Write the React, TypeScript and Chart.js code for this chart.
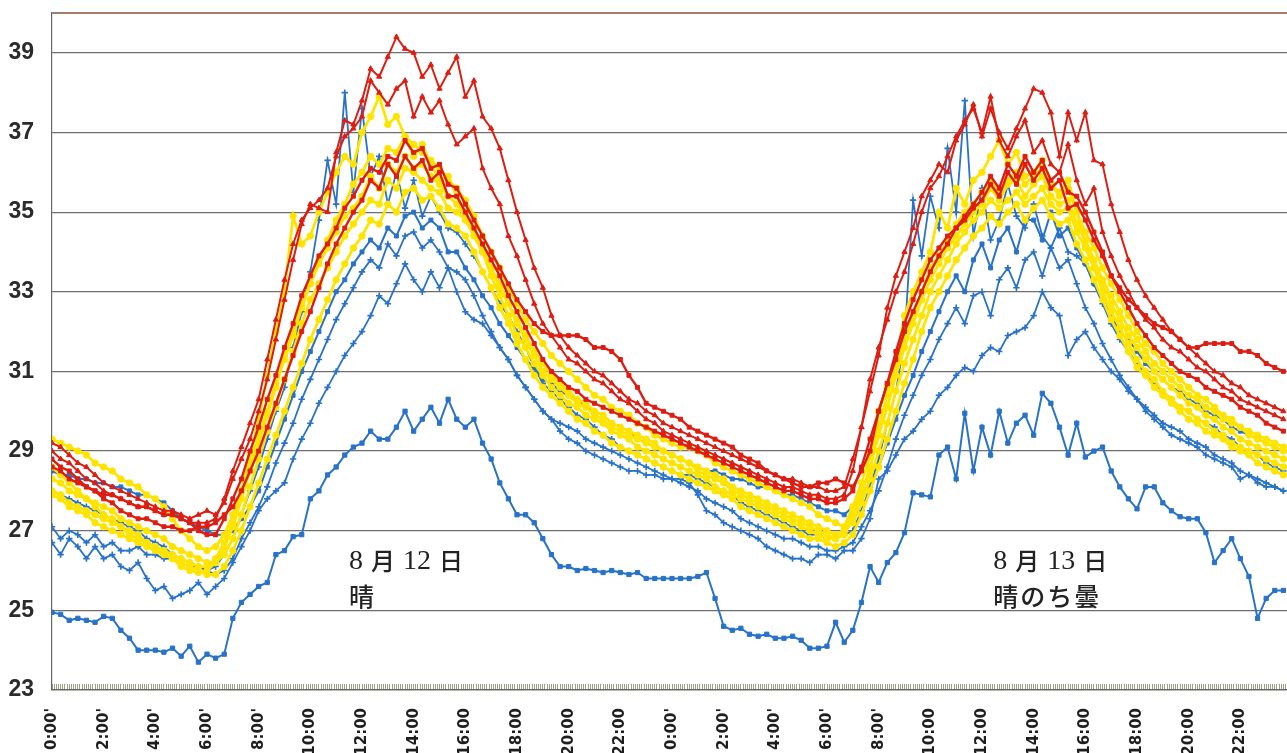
import React, { useEffect, useRef } from "react";
import { Chart, registerables } from "chart.js";

Chart.register(...registerables);

// Readings every 20 minutes from 0:00 on Aug 12 to 23:40 on Aug 13 (°C)
const STEP_MIN = 20;

const RED_A = [
  29.2, 29.1, 28.9, 28.7, 28.6, 28.4, 28.2, 28.1, 28.0, 27.9, 27.8, 27.7,
  27.6, 27.5, 27.5, 27.4, 27.3, 27.4, 27.5, 27.4, 27.7, 28.3, 28.8, 29.3,
  30.0, 30.8, 31.8, 32.8, 33.8, 34.7, 35.2, 35.1, 35.0, 36.5, 37.3, 37.2,
  37.8, 38.6, 38.4, 38.9, 39.4, 39.1, 39.0, 38.4, 38.7, 38.1, 38.5, 38.9,
  37.9, 38.3, 37.4, 37.1, 36.6, 35.8, 35.0, 34.3, 33.6, 33.1, 32.4, 31.9,
  31.6, 31.4, 31.2, 31.0, 30.9, 30.7, 30.5, 30.3, 30.2, 30.0, 29.9, 29.7,
  29.6, 29.5, 29.4, 29.3, 29.2, 29.1, 29.0, 28.9, 28.8, 28.7, 28.6, 28.5,
  28.4, 28.3, 28.3, 28.2, 28.1, 28.1, 28.0, 28.0, 28.1, 28.8, 29.6, 30.5,
  31.4, 32.6, 33.4, 34.0, 34.6, 35.4, 35.8, 36.2, 36.0, 36.8, 37.2, 37.7,
  36.9, 37.6, 37.0, 36.6, 37.1, 37.6, 38.1, 38.0, 37.5, 36.4, 37.5, 36.8,
  37.5, 36.3, 36.2, 35.2, 34.5, 33.8, 33.3, 32.9, 32.6, 32.3, 32.0, 31.8,
  31.6, 31.4, 31.2, 31.0, 30.9, 30.7, 30.6, 30.4, 30.3, 30.2, 30.1, 30.0,
];

const RED_B = [
  29.0, 28.8, 28.7, 28.5, 28.3, 28.2, 28.0, 27.9, 27.8, 27.7, 27.6, 27.6,
  27.5, 27.4, 27.4, 27.3, 27.2, 27.2, 27.2, 27.3, 27.8, 28.5, 29.1, 29.7,
  30.3, 31.3, 32.3, 33.3, 34.2, 34.8, 35.1, 35.3, 35.6, 36.4, 36.9, 37.1,
  37.4, 38.3, 38.0, 37.7, 38.1, 38.3, 37.4, 37.9, 37.5, 37.8, 37.2, 36.7,
  36.9, 37.1, 36.1, 35.6, 35.2, 34.4, 33.9, 33.3, 32.7, 32.2, 31.9, 31.6,
  31.3, 31.2, 31.0, 30.8, 30.7, 30.5, 30.3, 30.2, 30.0, 29.8, 29.7, 29.5,
  29.4, 29.3, 29.2, 29.1, 29.0, 28.9, 28.8, 28.7, 28.6, 28.5, 28.4, 28.3,
  28.2, 28.1, 28.1, 28.0, 27.9, 27.9, 27.8, 27.8, 27.9, 28.5, 29.6, 30.8,
  31.6, 32.3, 33.0, 33.5, 34.2, 35.0, 35.6, 35.9, 36.4, 36.9, 37.3, 37.6,
  37.0, 37.9, 36.8, 36.4, 36.9, 37.3, 36.5, 36.8, 36.2, 36.0, 36.7, 35.8,
  35.2, 35.6, 34.5, 33.9, 33.4, 33.0, 32.6, 32.3, 32.1, 31.8, 31.6, 31.5,
  31.3, 31.1, 31.0, 30.8, 30.6, 30.5, 30.3, 30.2, 30.1, 30.0, 29.9, 29.8,
];

const RED_C = [
  28.6, 28.5, 28.3, 28.2, 28.1, 28.0, 27.9, 27.9, 27.8, 27.7, 27.6, 27.6,
  27.5, 27.4, 27.4, 27.3, 27.2, 27.0, 26.9, 26.9, 27.3, 27.8, 28.3, 29.0,
  29.6, 30.3, 30.9, 31.6, 32.2, 32.9, 33.4, 33.9, 34.2, 34.6, 35.1, 35.4,
  35.8, 36.1, 36.0, 36.4, 36.3, 36.8, 36.5, 36.6, 36.1, 36.2, 35.7, 35.6,
  35.2, 34.8, 34.4, 34.0, 33.6, 33.2, 32.8, 32.5, 32.2, 32.0, 31.9, 31.9,
  31.9, 31.9, 31.8, 31.6, 31.6, 31.5, 31.3, 30.9, 30.6, 30.2, 30.1, 30.0,
  29.9, 29.8, 29.6, 29.5, 29.4, 29.3, 29.2, 29.1, 28.9, 28.8, 28.7, 28.5,
  28.4, 28.3, 28.2, 28.1, 28.1, 28.2, 28.2, 28.3, 28.2, 28.1, 28.5, 29.0,
  30.0, 30.7, 31.5, 32.2, 32.8, 33.3, 33.8, 34.1, 34.4, 34.6, 34.9, 35.2,
  35.5, 35.9, 35.6, 36.2, 35.9, 36.4, 36.0, 36.3, 35.8, 36.0, 35.5, 35.4,
  35.0, 34.5, 34.0, 33.4, 33.1, 32.8, 32.6, 32.4, 32.2, 32.1, 32.0, 31.8,
  31.6, 31.6, 31.7, 31.7, 31.7, 31.7, 31.5, 31.5, 31.4, 31.2, 31.1, 31.0,
];

const RED_D = [
  28.8, 28.6, 28.5, 28.3, 28.1, 28.0, 27.8, 27.7, 27.5, 27.4, 27.3, 27.3,
  27.2, 27.1, 27.1, 27.0, 27.0, 27.1, 27.1, 27.2, 27.4, 27.6, 28.0, 28.5,
  29.0, 29.6, 30.2, 30.8, 31.4, 32.0, 32.5, 33.1, 33.7, 34.2, 34.6, 35.0,
  35.3, 35.8, 35.6, 36.2, 35.9, 36.4, 36.1, 36.3, 35.8, 36.0, 35.4, 35.4,
  35.0, 34.6, 34.2, 33.8, 33.4, 32.9, 32.5, 32.1, 31.7, 31.3, 31.0, 30.8,
  30.6, 30.5, 30.3, 30.2, 30.1, 30.0, 29.9, 29.8, 29.7, 29.6, 29.5, 29.4,
  29.3, 29.2, 29.1, 29.0, 28.9, 28.8, 28.7, 28.6, 28.5, 28.4, 28.3, 28.2,
  28.1, 28.0, 28.0, 27.9, 27.8, 27.8, 27.7, 27.7, 27.8, 28.0, 28.6, 29.3,
  30.0, 30.7, 31.3, 32.0, 32.5, 33.0, 33.5, 33.9, 34.2, 34.6, 34.8, 35.1,
  35.3, 35.7, 35.4, 36.0, 35.7, 36.2, 35.8, 36.1, 35.6, 35.8, 35.1, 35.2,
  34.8, 34.3, 33.9, 33.4, 33.0, 32.6, 32.2, 31.9, 31.6, 31.4, 31.2, 31.0,
  30.9, 30.8, 30.6, 30.5, 30.4, 30.3, 30.1, 30.0, 29.9, 29.7, 29.6, 29.5,
];

const YELLOW_A = [
  29.3, 29.2, 29.1, 29.0, 28.9, 28.7, 28.6, 28.5, 28.3, 28.2, 28.1, 27.9,
  27.8, 27.6, 27.3, 27.0, 26.8, 26.6, 26.5, 26.6, 26.9, 27.4, 28.0, 28.7,
  29.4, 30.0, 30.7, 31.3, 31.9, 32.6, 33.2, 33.8, 34.3, 34.8, 35.2, 35.7,
  36.0, 36.4, 36.2, 36.6, 36.5, 36.9, 36.7, 36.5, 36.3, 36.1, 35.8, 35.6,
  35.3, 34.9, 34.4, 34.0, 33.6, 33.1, 32.7, 32.3, 32.0, 31.7, 31.4, 31.2,
  31.0, 30.8, 30.6, 30.4, 30.3, 30.1, 30.0, 29.9, 29.7, 29.6, 29.4, 29.3,
  29.2, 29.1, 29.1, 29.0, 28.9, 28.7, 28.6, 28.5, 28.4, 28.3, 28.2, 28.1,
  28.0, 27.9, 27.8, 27.7, 27.6, 27.4, 27.3, 27.2, 27.1, 27.6, 28.2, 28.9,
  29.6, 30.4, 31.1, 31.8, 32.4, 33.0, 33.6, 33.9, 34.3, 34.7, 35.0, 35.2,
  35.5, 35.8, 35.5, 35.8, 36.0, 35.7, 35.9, 36.1, 35.7, 35.4, 35.6, 35.0,
  34.5, 34.1, 33.6, 33.2, 32.8, 32.4, 32.0, 31.7, 31.5, 31.2, 31.0, 30.8,
  30.6, 30.4, 30.3, 30.1, 29.9, 29.8, 29.6, 29.5, 29.4, 29.3, 29.2, 29.1,
];

const YELLOW_B = [
  28.3, 28.2, 28.0, 27.9, 27.8, 27.7, 27.6, 27.5, 27.3, 27.2, 27.1, 27.0,
  26.9, 26.8, 26.6, 26.5, 26.4, 26.3, 26.2, 26.2, 26.4, 26.8, 27.4, 28.1,
  28.8, 29.5, 30.1, 30.8, 31.5, 32.2, 32.8, 33.2, 33.6, 34.0, 34.4, 34.7,
  35.0, 35.3, 35.2, 35.8, 35.6, 36.1, 36.0, 35.8, 35.6, 35.5, 35.1, 35.0,
  34.8, 34.4, 34.0, 33.6, 33.1, 32.7, 32.2, 31.8, 31.4, 31.0, 30.8, 30.6,
  30.4, 30.2, 30.1, 29.9, 29.8, 29.6, 29.5, 29.4, 29.3, 29.2, 29.1, 29.0,
  28.9, 28.8, 28.7, 28.6, 28.5, 28.4, 28.3, 28.1, 28.0, 27.9, 27.8, 27.7,
  27.6, 27.5, 27.4, 27.3, 27.2, 27.1, 27.0, 26.9, 27.0, 27.2, 27.7, 28.3,
  29.0, 29.7, 30.5, 31.2, 31.8, 32.4, 33.0, 33.4, 33.8, 34.2, 34.5, 34.8,
  35.0, 35.3, 35.1, 35.3, 35.5, 35.2, 35.4, 35.6, 35.2, 35.0, 35.1, 34.5,
  34.1, 33.6, 33.2, 32.7, 32.3, 31.9, 31.6, 31.3, 31.0, 30.8, 30.6, 30.4,
  30.2, 30.1, 29.9, 29.8, 29.6, 29.5, 29.3, 29.2, 29.1, 29.0, 28.9, 28.8,
];

const YELLOW_C = [
  27.9, 27.8, 27.6, 27.5, 27.4, 27.2, 27.1, 27.0, 26.9, 26.8, 26.7, 26.6,
  26.5, 26.4, 26.3, 26.2, 26.1, 26.0, 25.9, 25.9, 26.1, 26.5, 27.0, 27.6,
  28.2, 28.8, 29.4, 30.0, 30.6, 31.2, 31.8, 32.3, 32.8, 33.3, 33.7, 34.1,
  34.4, 34.8, 34.7, 35.2, 35.0, 35.5, 35.6, 35.3, 35.4, 35.1, 34.7, 34.6,
  34.4, 34.0, 33.5, 33.1, 32.6, 32.2, 31.7, 31.3, 30.9, 30.6, 30.4, 30.2,
  30.0, 29.8, 29.7, 29.5, 29.4, 29.2, 29.1, 29.0, 28.9, 28.8, 28.7, 28.6,
  28.5, 28.4, 28.3, 28.2, 28.1, 28.0, 27.9, 27.8, 27.6, 27.5, 27.4, 27.3,
  27.2, 27.1, 27.0, 26.9, 26.8, 26.8, 26.7, 26.6, 26.7, 26.9, 27.4, 28.0,
  28.6, 29.3, 30.0, 30.7, 31.3, 32.0, 32.6, 33.0, 33.4, 33.8, 34.1, 34.4,
  34.6, 34.9, 34.7, 35.0, 35.2, 34.8, 35.1, 35.3, 34.9, 34.7, 34.8, 34.2,
  33.8, 33.3, 32.8, 32.3, 31.9, 31.5, 31.1, 30.9, 30.6, 30.4, 30.2, 30.0,
  29.8, 29.7, 29.5, 29.4, 29.3, 29.1, 29.0, 28.9, 28.7, 28.6, 28.5, 28.4,
];

const YELLOW_D = [
  28.0, 27.9, 27.7, 27.6, 27.5, 27.4, 27.3, 27.2, 27.1, 27.0, 26.9, 26.7,
  26.6, 26.5, 26.4, 26.3, 26.2, 26.1, 26.1, 26.3, 26.7, 27.2, 28.0, 28.9,
  29.8, 30.9, 32.0, 33.0, 34.9, 34.2, 34.4, 35.0, 35.5, 36.0, 36.4, 36.2,
  37.0, 37.4, 37.9, 37.2, 37.4, 36.9, 36.4, 36.7, 36.2, 35.8, 35.9, 35.4,
  35.0, 34.6, 34.0, 33.4, 32.9, 32.4, 31.9, 31.6, 31.2, 30.9, 30.6, 30.4,
  30.2, 30.1, 29.9, 29.8, 29.7, 29.5, 29.4, 29.3, 29.1, 29.0, 28.9, 28.8,
  28.7, 28.6, 28.5, 28.4, 28.3, 28.1, 28.0, 27.9, 27.8, 27.7, 27.6, 27.5,
  27.4, 27.3, 27.2, 27.1, 27.0, 26.9, 26.8, 26.8, 27.0, 27.5, 28.0, 28.5,
  30.0, 30.6, 31.2, 32.4, 33.0, 33.5, 34.0, 35.0, 34.6, 35.6, 35.2, 35.8,
  36.0, 36.4, 36.8, 36.2, 36.5, 35.9, 36.0, 36.3, 35.7, 35.5, 35.8, 35.0,
  34.2, 33.6, 33.0, 32.5, 32.1, 31.7, 31.3, 31.0, 30.8, 30.5, 30.3, 30.1,
  30.0, 29.8, 29.7, 29.5, 29.4, 29.2, 29.1, 29.0, 28.9, 28.8, 28.7, 28.6,
];

const YELLOW_E = [
  28.6, 28.4, 28.2, 28.0, 27.8, 27.6, 27.4, 27.3, 27.1, 26.9, 26.8, 26.7,
  26.6, 26.4, 26.3, 26.1, 26.0, 25.95, 26.0, 26.2, 26.6, 27.1, 27.8, 28.5,
  29.2, 29.9, 30.6, 31.4, 32.0, 32.7, 33.2, 33.7, 34.1, 34.5, 34.9, 35.1,
  35.4, 35.9, 35.6, 36.2, 36.0, 36.4, 36.1, 36.2, 35.9, 35.7, 35.4, 35.2,
  34.9, 34.5, 34.1, 33.6, 33.2, 32.7, 32.3, 31.9, 31.5, 31.2, 30.9, 30.7,
  30.5, 30.3, 30.2, 30.0, 29.9, 29.7, 29.6, 29.5, 29.4, 29.3, 29.2, 29.0,
  28.9, 28.8, 28.7, 28.5, 28.4, 28.3, 28.2, 28.0, 27.9, 27.8, 27.7, 27.6,
  27.5, 27.4, 27.3, 27.2, 27.1, 27.0, 26.9, 26.8, 26.9, 27.3, 27.9, 28.6,
  29.4, 30.1, 30.9, 31.6, 32.2, 32.8, 33.3, 33.7, 34.1, 34.4, 34.7, 35.0,
  35.2, 35.6, 35.3, 35.7, 35.8, 35.4, 35.7, 35.9, 35.4, 35.2, 35.3, 34.7,
  34.3, 33.8, 33.3, 32.9, 32.5, 32.1, 31.8, 31.5, 31.2, 31.0, 30.8, 30.6,
  30.4, 30.3, 30.1, 30.0, 29.8, 29.7, 29.6, 29.4, 29.3, 29.2, 29.1, 29.0,
];

const BLUE_A = [
  28.0, 27.9, 27.8, 27.7, 27.6, 27.5, 27.4, 27.3, 27.2, 27.1, 27.0, 26.8,
  26.7, 26.6, 26.4, 26.3, 26.2, 26.1, 26.0, 26.1, 26.4, 26.8, 27.4, 28.0,
  28.6, 29.3, 30.0, 30.6, 31.6, 32.5, 33.5, 34.8, 36.3, 35.2, 38.0, 35.5,
  37.6, 35.9, 36.4, 35.2, 36.0, 35.1, 35.8, 34.9, 35.4, 35.0, 34.6, 34.5,
  34.2, 33.9, 33.5, 33.1, 32.7, 32.4, 32.0, 31.6, 31.1, 30.7, 30.5, 30.3,
  30.1, 29.9, 29.8, 29.6, 29.4, 29.3, 29.1, 29.0, 28.9, 28.8, 28.7, 28.6,
  28.5, 28.4, 28.4, 28.3, 28.2, 28.1, 28.0, 27.9, 27.7, 27.6, 27.5, 27.4,
  27.3, 27.2, 27.1, 27.0, 26.9, 26.9, 26.8, 26.8, 26.9, 27.0, 27.5, 28.1,
  28.8, 29.7, 30.5, 31.8, 35.3, 33.9, 35.4, 34.6, 36.6, 35.0, 37.8, 34.4,
  35.6, 34.3, 34.8, 35.7, 34.9, 34.6, 35.2, 34.4, 34.1, 34.6, 34.0, 33.9,
  33.7, 33.2, 32.7, 32.2, 31.8, 31.5, 31.2, 30.9, 30.7, 30.5, 30.3, 30.1,
  30.0, 29.8, 29.7, 29.6, 29.4, 29.3, 29.1, 29.0, 28.9, 28.7, 28.6, 28.5,
];

const BLUE_B = [
  28.5, 28.4, 28.4, 28.3, 28.3, 28.2, 28.2, 28.1, 28.1, 28.0, 27.9, 27.9,
  27.8, 27.7, 27.5, 27.3, 27.2, 27.1, 27.0, 26.9, 26.9, 27.0, 27.3, 27.6,
  28.0, 28.6, 29.2, 29.8, 30.4, 31.0, 31.5, 32.0, 32.5, 33.0, 33.3, 33.7,
  34.0, 34.3, 34.1, 34.6, 34.4, 34.9, 35.0, 34.6, 34.8, 34.6, 34.0, 34.0,
  33.6, 33.3, 32.9, 32.6, 32.2, 31.9, 31.6, 31.3, 31.1, 30.8, 30.7, 30.5,
  30.4, 30.3, 30.1, 30.0, 29.9, 29.7, 29.6, 29.5, 29.3, 29.2, 29.1, 29.0,
  28.9, 28.8, 28.7, 28.6, 28.5, 28.5, 28.4, 28.3, 28.3, 28.2, 28.1, 28.1,
  28.0, 27.9, 27.9, 27.8, 27.7, 27.6, 27.5, 27.5, 27.4, 27.6, 27.9, 28.2,
  28.6, 29.2, 29.8, 30.4, 30.9, 31.5, 32.0, 32.5, 33.0, 33.4, 33.0, 33.8,
  34.2, 33.6, 34.3, 34.6, 34.0, 34.8, 34.8, 34.3, 35.0, 34.4, 34.6, 34.1,
  33.7, 33.2, 32.8, 32.4, 32.0, 31.8, 31.5, 31.2, 31.0, 30.8, 30.6, 30.5,
  30.3, 30.2, 30.0, 29.9, 29.8, 29.6, 29.5, 29.4, 29.3, 29.2, 29.1, 29.0,
];

const BLUE_C = [
  27.1, 26.8, 27.0, 26.9, 26.7, 26.9, 26.6, 26.7, 26.5, 26.5, 26.6, 26.4,
  26.4, 26.3, 26.3, 26.2, 26.1, 26.1, 26.0, 25.9, 26.0, 26.3, 26.8, 27.2,
  27.6, 28.1, 28.7, 29.2, 29.7, 30.3, 30.8, 31.3, 31.8, 32.3, 32.7, 33.1,
  33.5, 33.8, 33.6, 34.2, 33.9, 34.4, 34.5, 34.1, 34.3, 34.0, 33.6, 33.5,
  33.3, 32.9, 32.4, 32.0, 31.6, 31.3, 30.9, 30.6, 30.3, 30.0, 29.8, 29.7,
  29.6, 29.5, 29.3, 29.2, 29.1, 29.0, 28.9, 28.8, 28.7, 28.6, 28.5, 28.4,
  28.3, 28.2, 28.1, 28.0, 27.8, 27.7, 27.6, 27.5, 27.3, 27.2, 27.1, 27.0,
  26.9, 26.8, 26.8, 26.7, 26.6, 26.6, 26.5, 26.5, 26.6, 26.7, 27.1, 27.5,
  28.0, 28.6, 29.3, 29.9, 30.4, 30.9, 31.3, 31.8, 32.2, 32.6, 32.2, 32.9,
  33.0, 32.4, 33.3, 33.6, 33.1, 33.8, 34.0, 33.4, 34.1, 33.6, 33.8, 33.2,
  32.6, 32.2, 31.7, 31.3, 30.9, 30.6, 30.3, 30.1, 29.9, 29.7, 29.6, 29.5,
  29.3, 29.2, 29.1, 28.9, 28.8, 28.7, 28.5, 28.4, 28.3, 28.2, 28.1, 28.0,
];

const BLUE_D = [
  26.7, 26.4, 26.8, 26.6, 26.3, 26.6, 26.3, 26.4, 26.1, 26.0, 26.2, 25.8,
  25.5, 25.6, 25.3, 25.4, 25.5, 25.7, 25.4, 25.6, 25.8, 26.2, 26.6, 27.0,
  27.5, 27.8, 28.0, 28.2, 28.8, 29.3, 29.7, 30.2, 30.6, 31.0, 31.4, 31.7,
  32.0, 32.4, 32.9, 32.7, 33.2, 33.7, 33.3, 33.0, 33.5, 33.1, 33.6, 33.0,
  32.5, 32.3, 32.2, 31.9, 31.6, 31.3, 30.9, 30.6, 30.3, 30.0, 29.8, 29.5,
  29.3, 29.2, 29.0, 28.9, 28.8, 28.7, 28.6, 28.5, 28.5, 28.4, 28.4, 28.3,
  28.3, 28.3, 28.2, 27.9, 27.5, 27.4, 27.2, 27.1, 27.0, 26.9, 26.8, 26.6,
  26.5, 26.4, 26.3, 26.3, 26.2, 26.4, 26.4, 26.3, 26.5, 26.5, 26.8, 27.3,
  28.3, 28.5, 28.9, 29.3, 29.5, 29.8, 30.0, 30.4, 30.6, 30.9, 31.1, 31.0,
  31.4, 31.6, 31.5, 31.9, 32.0, 32.1, 32.4, 33.0, 32.6, 32.4, 31.4, 31.8,
  32.0, 31.6, 31.3, 31.0, 30.8, 30.5, 30.3, 30.0, 29.8, 29.6, 29.4, 29.3,
  29.2, 29.1, 28.9, 28.8, 28.7, 28.6, 28.3, 28.4, 28.2, 28.1, 28.1, 28.0,
];

const BLUE_E = [
  24.95, 24.9, 24.75, 24.8, 24.75, 24.7, 24.85, 24.8, 24.5, 24.3, 24.0, 24.0,
  24.0, 23.95, 24.05, 23.85, 24.1, 23.7, 23.9, 23.8, 23.9, 24.8, 25.2, 25.4,
  25.6, 25.7, 26.4, 26.5, 26.85, 26.9, 27.8, 28.0, 28.4, 28.6, 28.9, 29.1,
  29.2, 29.5, 29.3, 29.3, 29.6, 30.0, 29.5, 29.8, 30.1, 29.7, 30.3, 29.8,
  29.6, 29.8, 29.2, 28.8, 28.2, 27.8, 27.4, 27.4, 27.2, 26.8, 26.4, 26.1,
  26.1, 26.0, 26.05, 26.0, 25.95, 26.0, 25.95, 25.9, 25.95, 25.8, 25.8, 25.8,
  25.8, 25.8, 25.8, 25.85, 25.95, 25.3, 24.6, 24.5, 24.55, 24.4, 24.35, 24.4,
  24.3, 24.3, 24.35, 24.25, 24.05, 24.05, 24.1, 24.7, 24.2, 24.5, 25.2, 26.1,
  25.7, 26.2, 26.45, 26.95, 27.95, 27.9, 27.85, 28.9, 29.1, 28.3, 29.95, 28.5,
  29.6, 28.9, 30.0, 29.2, 29.7, 29.9, 29.4, 30.45, 30.2, 29.6, 28.9, 29.7,
  28.85, 29.0, 29.1, 28.5, 28.1, 27.8, 27.55, 28.1, 28.1, 27.7, 27.5, 27.35,
  27.3, 27.3, 26.95, 26.2, 26.5, 26.8, 26.3, 25.85, 24.8, 25.3, 25.5, 25.5,
];

// Axis ticks: every two hours over both days, labels as printed
const X_TICK_LABELS = [
  "0:00'", "2:00'", "4:00'", "6:00'", "8:00'", "10:00", "12:00", "14:00", "16:00", "18:00", "20:00", "22:00",
  "0:00'", "2:00'", "4:00'", "6:00'", "8:00'", "10:00", "12:00", "14:00", "16:00", "18:00", "20:00", "22:00",
];
const Y_TICKS = [23, 25, 27, 29, 31, 33, 35, 37, 39];
const Y_TOP = 40;

// Day captions: position in minutes / °C
const DAY_NOTES = [
  { at: 690, title: ["8", "月", "12", "日"], weather: "晴" },
  { at: 2186, title: ["8", "月", "13", "日"], weather: "晴のち曇" },
];
const NOTE_TITLE_Y = 26.25;
const NOTE_WEATHER_Y = 25.35;

const RED = "#de1d12";
const YELLOW = "#ffe400";
const BLUE = "#2872c8";

type SeriesDef = { name: string; values: number[]; color: string; shape: string; r: number; w: number };

// Listed top-most first (Chart.js paints dataset 0 last)
const SERIES: SeriesDef[] = [
  { name: "A", values: RED_A, color: RED, shape: "triangle", r: 3, w: 2 },
  { name: "B", values: RED_B, color: RED, shape: "triangle", r: 3, w: 2 },
  { name: "C", values: RED_C, color: RED, shape: "rect", r: 2.8, w: 2.4 },
  { name: "D", values: RED_D, color: RED, shape: "rect", r: 2.8, w: 2.4 },
  { name: "E", values: YELLOW_A, color: YELLOW, shape: "circle", r: 3.2, w: 2.8 },
  { name: "F", values: YELLOW_B, color: YELLOW, shape: "circle", r: 3.2, w: 2.8 },
  { name: "G", values: YELLOW_C, color: YELLOW, shape: "circle", r: 3.2, w: 2.8 },
  { name: "H", values: YELLOW_D, color: YELLOW, shape: "circle", r: 3.2, w: 2.8 },
  { name: "N", values: YELLOW_E, color: YELLOW, shape: "circle", r: 3.2, w: 2.8 },
  { name: "I", values: BLUE_A, color: BLUE, shape: "cross", r: 3.2, w: 1.8 },
  { name: "J", values: BLUE_B, color: BLUE, shape: "rect", r: 2.8, w: 2 },
  { name: "K", values: BLUE_C, color: BLUE, shape: "cross", r: 3.2, w: 1.8 },
  { name: "L", values: BLUE_D, color: BLUE, shape: "cross", r: 3.2, w: 1.8 },
  { name: "M", values: BLUE_E, color: BLUE, shape: "rect", r: 3, w: 2 },
];

const DIGIT_FONT = '28px "Liberation Serif", serif';
const KANJI_FONT = '500 24px "Noto Sans CJK JP", sans-serif';
const WEATHER_FONT = '500 25px "Noto Sans CJK JP", sans-serif';

const dayNotes = {
  id: "dayNotes",
  afterDatasetsDraw(chart: any) {
    const { ctx, scales } = chart;
    const x = scales.x;
    const y = scales.y;
    ctx.save();
    ctx.fillStyle = "#222";
    ctx.textBaseline = "middle";
    ctx.textAlign = "left";
    for (const n of DAY_NOTES) {
      let cx = x.getPixelForValue(n.at);
      const ty = y.getPixelForValue(NOTE_TITLE_Y);
      for (const part of n.title) {
        ctx.font = /\d/.test(part) ? DIGIT_FONT : KANJI_FONT;
        ctx.fillText(part, cx, ty + (/\d/.test(part) ? 1 : 0));
        cx += ctx.measureText(part).width + 8;
      }
      ctx.font = WEATHER_FONT;
      let wx = x.getPixelForValue(n.at);
      const wy = y.getPixelForValue(NOTE_WEATHER_Y);
      for (const ch of Array.from(n.weather)) {
        ctx.fillText(ch, wx, wy);
        wx += ctx.measureText(ch).width + 2;
      }
    }
    ctx.restore();
  },
};

export default function App() {
  const canvasRef = useRef<HTMLCanvasElement | null>(null);

  useEffect(() => {
    const canvas = canvasRef.current;
    if (!canvas) return;

    const datasets = SERIES.map((s) => ({
      label: s.name,
      data: s.values.map((v, i) => ({ x: i * STEP_MIN, y: v })),
      borderColor: s.color,
      backgroundColor: s.color,
      pointBackgroundColor: s.color,
      pointBorderColor: s.color,
      pointStyle: s.shape,
      pointRadius: s.r,
      pointBorderWidth: s.shape === "cross" ? 1.6 : 1,
      borderWidth: s.w,
      tension: 0,
      fill: false,
    }));

    const chart = new Chart(canvas, {
      type: "line",
      data: { datasets },
      plugins: [dayNotes],
      options: {
        animation: false,
        responsive: true,
        maintainAspectRatio: false,
        events: [],
        layout: { padding: { left: 0, top: 13, right: 8, bottom: 0 } },
        plugins: { legend: { display: false }, tooltip: { enabled: false } },
        scales: {
          x: {
            type: "linear",
            min: 0,
            max: 48 * 60,
            afterFit: (s: any) => {
              s.height = 100;
              s.paddingLeft = 0;
              s.paddingRight = 0;
            },
            afterBuildTicks: (s: any) => {
              const t: { value: number }[] = [];
              for (let m = 0; m <= 48 * 60; m += 5) t.push({ value: m });
              s.ticks = t;
            },
            ticks: {
              autoSkip: false,
              minRotation: 90,
              maxRotation: 90,
              padding: 24,
              color: "#1e1e1e",
              font: { family: '"DejaVu Sans", sans-serif', size: 15, weight: "bold" },
              callback: (v: any) => {
                const m = Number(v);
                if (m % 120 !== 0) return "";
                return X_TICK_LABELS[m / 120] ?? "";
              },
            },
            grid: {
              display: true,
              drawOnChartArea: false,
              drawTicks: true,
              tickLength: -6,
              tickColor: "#85856a",
              tickWidth: 0.8,
            },
            border: { display: true, color: "#666", width: 1.2 },
          },
          y: {
            type: "linear",
            min: 23,
            max: Y_TOP,
            afterFit: (s: any) => {
              s.width = 52;
              s.paddingTop = 0;
              s.paddingBottom = 0;
            },
            afterBuildTicks: (s: any) => {
              s.ticks = [...Y_TICKS, Y_TOP].map((v) => ({ value: v }));
            },
            ticks: {
              padding: 18,
              color: "#2b2b2b",
              font: { family: '"Liberation Sans Narrow", "Liberation Sans", sans-serif', size: 23, weight: "bold" },
              callback: (v: any) => (Number(v) === Y_TOP ? "" : String(v)),
            },
            grid: {
              drawTicks: false,
              color: (c: any) => (c.tick && c.tick.value === Y_TOP ? "#a0806a" : "#6e6e6e"),
              lineWidth: (c: any) => (c.tick && c.tick.value === Y_TOP ? 2 : 1.2),
            },
            border: { display: true, color: "#666", width: 1.2 },
          },
        },
      },
    });

    return () => chart.destroy();
  }, []);

  return (
    <div style={{ position: "fixed", left: 0, top: 0, width: "100vw", height: "100vh", overflow: "hidden", background: "#fff" }}>
      <div style={{ position: "absolute", left: 0, top: 0, width: 1300, height: 790 }}>
        <canvas ref={canvasRef} />
      </div>
    </div>
  );
}
